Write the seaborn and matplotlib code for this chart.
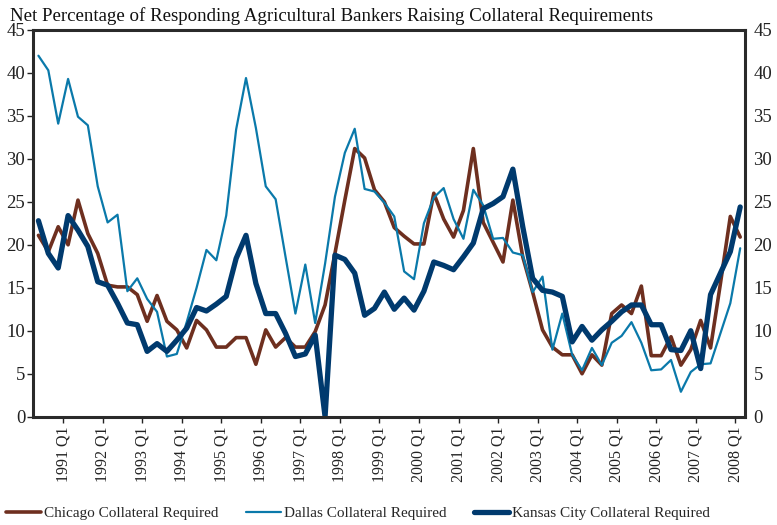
import seaborn as sns
import matplotlib.pyplot as plt
import pandas as pd

# quarterly survey, 1990 Q2 .. 2008 Q1
chicago = [21.1, 19.2, 22.1,
           20.0, 25.2, 21.3, 19.0,
           15.3, 15.1, 15.1, 14.2,
           11.1, 14.1, 11.1, 10.1,
           8.0, 11.2, 10.1, 8.1,
           8.1, 9.2, 9.2, 6.1,
           10.1, 8.1, 9.2, 8.1,
           8.1, 9.9, 13.0, 19.0,
           25.2, 31.2, 30.1, 26.4,
           25.0, 22.0, 21.0, 20.1,
           20.1, 26.0, 23.0, 20.9,
           24.0, 31.2, 22.6, 20.3,
           18.0, 25.2, 18.6, 14.5,
           10.1, 8.1, 7.2, 7.2,
           5.0, 7.2, 6.0, 12.0,
           13.0, 12.0, 15.2, 7.1,
           7.1, 9.3, 6.0, 7.8,
           11.2, 8.0, 15.5, 23.3,
           20.9]

dallas = [42.0, 40.3, 34.1,
          39.3, 34.9, 33.9, 26.8,
          22.6, 23.5, 14.6, 16.1,
          13.7, 12.2, 7.0, 7.3,
          11.0, 15.0, 19.4, 18.2,
          23.4, 33.4, 39.4, 33.6,
          26.8, 25.3, 18.6, 12.0,
          17.7, 10.9, 17.8, 25.6,
          30.7, 33.5, 26.5, 26.2,
          24.9, 23.3, 16.9, 16.0,
          22.5, 25.5, 26.6, 23.0,
          20.7, 26.4, 24.6, 20.7,
          20.8, 19.1, 18.8, 14.5,
          16.3, 7.8, 12.0, 7.2,
          5.4, 8.0, 6.0, 8.6,
          9.4, 11.0, 8.6, 5.4,
          5.5, 6.6, 2.9, 5.2,
          6.1, 6.2, 9.7, 13.2,
          19.6]

kansas_city = [22.8, 19.0, 17.3,
               23.4, 21.7, 19.8, 15.7,
               15.3, 13.2, 10.9, 10.7,
               7.6, 8.5, 7.6, 8.9,
               10.3, 12.7, 12.3, 13.1,
               14.0, 18.4, 21.1, 15.5,
               12.0, 12.0, 9.7, 7.0,
               7.3, 9.5, 0.0, 18.8,
               18.3, 16.7, 11.8, 12.6,
               14.5, 12.5, 13.8, 12.4,
               14.6, 18.0, 17.6, 17.1,
               18.6, 20.2, 24.2, 24.8,
               25.6, 28.8, 22.1, 16.1,
               14.7, 14.5, 14.0, 8.7,
               10.5, 8.9, 10.1, 11.1,
               12.2, 13.0, 13.0, 10.7,
               10.7, 7.8, 7.7, 10.0,
               5.6, 14.2, 16.7, 19.2,
               24.4]

tick_labels = ["1991 Q1", "1992 Q1", "1993 Q1", "1994 Q1", "1995 Q1", "1996 Q1",
               "1997 Q1", "1998 Q1", "1999 Q1", "2000 Q1", "2001 Q1", "2002 Q1",
               "2003 Q1", "2004 Q1", "2005 Q1", "2006 Q1", "2007 Q1", "2008 Q1"]

df = pd.DataFrame({"idx": range(len(chicago)),
                   "Chicago": chicago,
                   "Dallas": dallas,
                   "Kansas City": kansas_city})

sns.set_style("ticks")
plt.rcParams['font.family'] = ['Liberation Serif', 'DejaVu Serif']

fig = plt.figure(figsize=(7.77, 5.25), dpi=100)
ax = fig.add_axes([0.0431, 0.2063, 0.9159, 0.7367])

sns.lineplot(data=df, x="idx", y="Chicago", ax=ax, color="#6e2f1f", linewidth=2.6,
             label="Chicago Collateral Required")
sns.lineplot(data=df, x="idx", y="Dallas", ax=ax, color="#0a79aa", linewidth=1.6,
             label="Dallas Collateral Required")
sns.lineplot(data=df, x="idx", y="Kansas City", ax=ax, color="#003a6e", linewidth=3.8,
             label="Kansas City Collateral Required")

ax.set_xlim(-0.5, 71.5)
ax.set_ylim(0, 45)
ax.set_yticks(range(0, 46, 5))
ax.set_xticks([2.5 + 4 * k for k in range(len(tick_labels))])
ax.set_xticklabels(tick_labels, rotation=90, fontsize=11.5)
ax.set_xlabel("")
ax.set_ylabel("")
ax.tick_params(axis="y", labelsize=13.5, left=True, right=False,
               labelleft=True, labelright=True, length=4, width=1, pad=2, colors="#222222")
ax.tick_params(axis="x", length=4, width=1, pad=3, colors="#222222")
for sp in ax.spines.values():
    sp.set_visible(True)
    sp.set_linewidth(2.2)
    sp.set_color("#2a2a2a")

fig.text(0.013, 0.969, "Net Percentage of Responding Agricultural Bankers Raising Collateral Requirements",
         fontsize=13.6, ha="left", va="center", color="#111111")

handles, labels = ax.get_legend_handles_labels()
ax.get_legend().remove()
fig.legend(handles, labels, loc="center", bbox_to_anchor=(0.461, 0.022), ncol=3,
           frameon=False, fontsize=11, handlelength=2.3, handletextpad=0.2,
           columnspacing=1.8)

fig.savefig("out.png", dpi=100)
